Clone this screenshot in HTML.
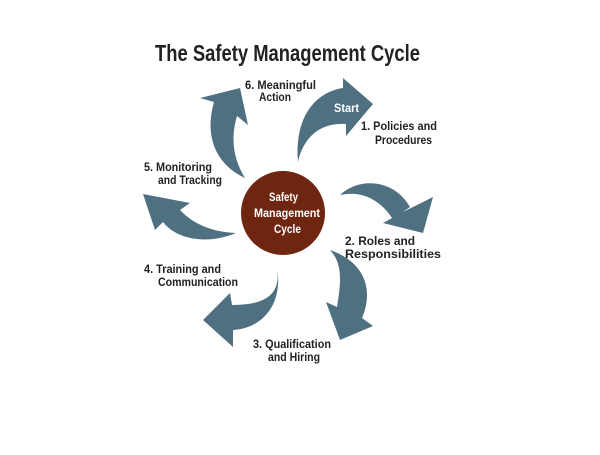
<!DOCTYPE html>
<html><head><style>
body{margin:0;background:#fff}
svg text{font-family:"Liberation Sans Narrow","Liberation Sans",sans-serif;font-weight:bold}
</style></head><body>
<svg width="600" height="450" viewBox="0 0 600 450">
<text x="155" y="61" font-size="23" textLength="265" lengthAdjust="spacingAndGlyphs" fill="#222">The Safety Management Cycle</text>
<g fill="#4f7080">
<!-- 1 -->
<path d="M298,162 C294,118 315,92 343,88 L343,78 L373,104 L346,136 L346,124 C320,122 303,138 298,162 Z"/>
<!-- 2 -->
<path d="M340,195 C360,176 395,180 410,207 L403,212 L433,197 L423,233 L383,223 L392,218 C380,200 362,190 340,195 Z"/>
<!-- 3 -->
<path d="M330,250 C365,262 374,290 362,318 L373,326 L340,340 L326,302 L337,307 C341,282 343,264 330,250 Z"/>
<!-- 4 -->
<path d="M277,268 C282,298 260,305 232,305 L230,293 L203,320 L233,347 L233,330 C266,328 283,300 277,268 Z"/>
<!-- 5 -->
<path d="M236,233 C205,246 175,238 163,222 L155,230 L143,194 L190,203 L180,210 C195,226 215,232 236,233 Z"/>
<!-- 6 -->
<path d="M245,178 C213,163 205,133 214,102 L200,98 L240,88 L248,125 L237,116 C230,140 234,160 245,178 Z"/>
</g>
<circle cx="283" cy="213" r="43" fill="#6e2611" stroke="#fff" stroke-width="2"/>
<g fill="#fff" font-size="12">
<text x="269" y="201" textLength="29" lengthAdjust="spacingAndGlyphs">Safety</text>
<text x="254" y="217" textLength="66" lengthAdjust="spacingAndGlyphs">Management</text>
<text x="274" y="233" textLength="27" lengthAdjust="spacingAndGlyphs">Cycle</text>
<text x="334" y="112" textLength="25" lengthAdjust="spacingAndGlyphs">Start</text>
</g>
<g fill="#222" font-size="12" lengthAdjust="spacingAndGlyphs">
<text x="361" y="130" textLength="76" lengthAdjust="spacingAndGlyphs">1. Policies and</text>
<text x="375" y="144" textLength="57" lengthAdjust="spacingAndGlyphs">Procedures</text>
<text x="345" y="245" textLength="70" lengthAdjust="spacingAndGlyphs">2. Roles and</text>
<text x="345" y="258" textLength="96" lengthAdjust="spacingAndGlyphs">Responsibilities</text>
<text x="253" y="348" textLength="78" lengthAdjust="spacingAndGlyphs">3. Qualification</text>
<text x="268" y="361" textLength="52" lengthAdjust="spacingAndGlyphs">and Hiring</text>
<text x="144" y="273" textLength="77" lengthAdjust="spacingAndGlyphs">4. Training and</text>
<text x="158" y="286" textLength="80" lengthAdjust="spacingAndGlyphs">Communication</text>
<text x="144" y="171" textLength="68" lengthAdjust="spacingAndGlyphs">5. Monitoring</text>
<text x="158" y="184" textLength="64" lengthAdjust="spacingAndGlyphs">and Tracking</text>
<text x="245" y="89" textLength="71" lengthAdjust="spacingAndGlyphs">6. Meaningful</text>
<text x="259" y="101" textLength="32" lengthAdjust="spacingAndGlyphs">Action</text>
</g>
</svg>
</body></html>
